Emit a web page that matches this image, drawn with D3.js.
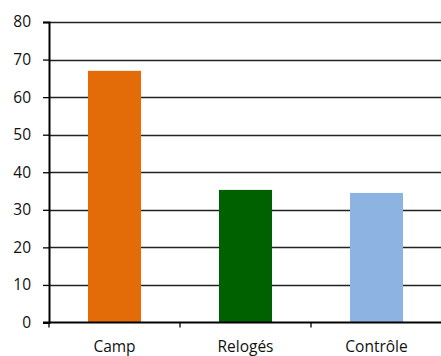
<!DOCTYPE html>
<html>
<head>
<meta charset="utf-8">
<script src="https://cdn.jsdelivr.net/npm/d3@7"></script>
<style>
  html, body { margin: 0; padding: 0; background: #fff; }
  svg { display: block; }
  text { font-family: "Open Sans", "Liberation Sans", sans-serif; font-size: 15.5px; fill: #111; }
</style>
</head>
<body>
<svg id="chart" width="441" height="356"></svg>
<script>
// Groups and their values
const categories = ["Camp", "Relogés", "Contrôle"];
const values = [67, 35.3, 34.5];
const barColors = ["#E36C09", "#006100", "#8DB3E2"];
const yTicks = [0, 10, 20, 30, 40, 50, 60, 70, 80];

const svg = d3.select("#chart");
const plotLeft = 49, plotRight = 442, plotTop = 22, plotBottom = 322.5;

const x = d3.scaleBand().domain(categories).range([plotLeft, plotRight]).paddingInner(0.595).paddingOuter(0.2975);
const y = d3.scaleLinear().domain([0, 80]).range([plotBottom, plotTop]);

// horizontal gridlines
svg.append("g")
  .selectAll("line")
  .data(yTicks.filter(d => d > 0))
  .join("line")
  .attr("x1", plotLeft).attr("x2", 441)
  .attr("y1", d => Math.round(y(d)) + 0.5).attr("y2", d => Math.round(y(d)) + 0.5)
  .attr("stroke", "#222").attr("stroke-width", 1.3);

// bars
svg.append("g")
  .selectAll("rect")
  .data(categories)
  .join("rect")
  .attr("x", d => x(d))
  .attr("width", x.bandwidth())
  .attr("y", (d, i) => y(values[i]))
  .attr("height", (d, i) => plotBottom - y(values[i]))
  .attr("fill", (d, i) => barColors[i]);

// y axis
const yAxis = svg.append("g")
  .attr("transform", `translate(${plotLeft},0)`)
  .call(d3.axisLeft(y).tickValues(yTicks).tickSize(6).tickPadding(12).tickFormat(d3.format("d")));
yAxis.select(".domain").attr("stroke", "#000").attr("stroke-width", 2);
yAxis.selectAll(".tick line").attr("stroke", "#000").attr("stroke-width", 1.3);
yAxis.selectAll("text").style("font-size", "15.5px").attr("fill", "#111");

// x axis with ticks between groups
const xAxisG = svg.append("g").attr("transform", `translate(0,${plotBottom})`);
xAxisG.append("line")
  .attr("x1", plotLeft - 6).attr("x2", 441)
  .attr("y1", 0).attr("y2", 0)
  .attr("stroke", "#000").attr("stroke-width", 2);
const step = x.step();
const boundaries = d3.range(categories.length + 1).map(i => plotLeft + i * step);
xAxisG.selectAll("line.sep")
  .data(boundaries.slice(0, categories.length))
  .join("line")
  .attr("class", "sep")
  .attr("x1", d => d).attr("x2", d => d)
  .attr("y1", 0).attr("y2", 5)
  .attr("stroke", "#000").attr("stroke-width", 1.3);
xAxisG.selectAll("text")
  .data(categories)
  .join("text")
  .attr("x", d => x(d) + x.bandwidth() / 2)
  .attr("y", 29)
  .attr("text-anchor", "middle")
  .text(d => d);
</script>
</body>
</html>
